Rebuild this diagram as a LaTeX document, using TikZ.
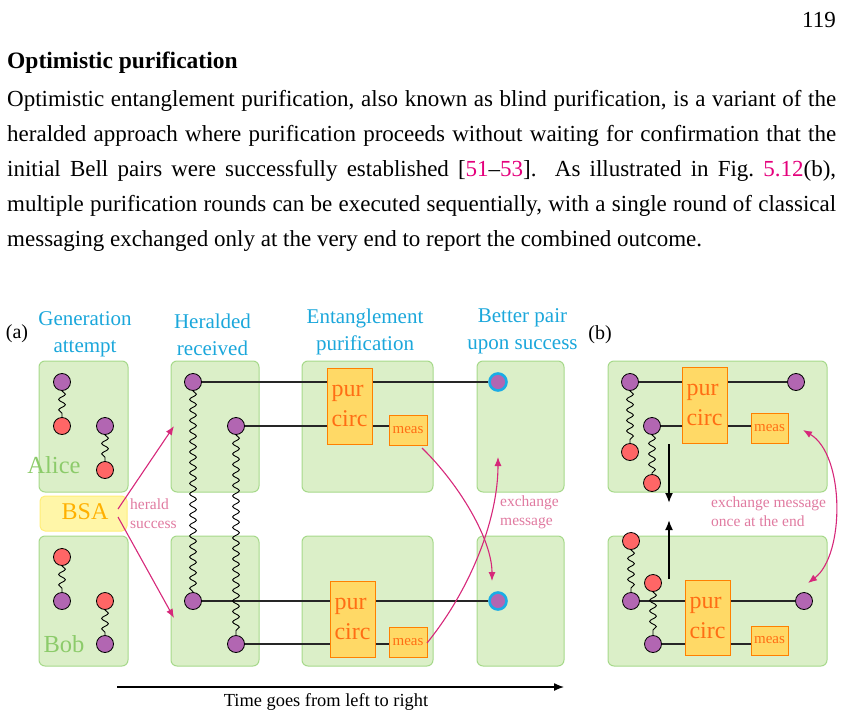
\documentclass[tikz,border=0pt]{standalone}
\usepackage{fontspec}
\setmainfont{Liberation Serif}
\usetikzlibrary{arrows.meta,decorations.pathmorphing,calc}
\definecolor{hdr}{RGB}{27,167,219}
\definecolor{panelfill}{RGB}{219,239,200}
\definecolor{panelline}{RGB}{166,217,138}
\definecolor{alicegreen}{RGB}{140,203,106}
\definecolor{bsafill}{RGB}{255,246,168}
\definecolor{bsaline}{RGB}{255,238,120}
\definecolor{bsatext}{RGB}{255,176,0}
\definecolor{qpurple}{RGB}{178,102,178}
\definecolor{qred}{RGB}{255,102,102}
\definecolor{qcyan}{RGB}{26,172,230}
\definecolor{purfill}{RGB}{255,217,102}
\definecolor{purline}{RGB}{255,128,0}
\definecolor{purtext}{RGB}{255,110,20}
\definecolor{msgcol}{RGB}{214,40,122}
\definecolor{msgtext}{RGB}{224,122,160}
\definecolor{citecol}{RGB}{228,0,124}
\pgfdeclarelayer{bg}\pgfdeclarelayer{mid}\pgfsetlayers{bg,mid,main}
\begin{document}
\begin{tikzpicture}[x=1pt,y=-1pt,
  panel/.style={rectangle,draw=panelline,fill=panelfill,rounded corners=6pt,line width=1pt,inner sep=0pt},
  qp/.style={circle,draw=black,fill=qpurple,minimum size=17pt,inner sep=0pt,line width=0.8pt},
  qr/.style={qp,fill=qred},
  qb/.style={circle,draw=qcyan,fill=qpurple,minimum size=17pt,inner sep=0pt,line width=2.6pt},
  purbox/.style={rectangle,draw=purline,fill=purfill,inner sep=0pt,text=purtext,line width=1pt,
    font=\fontsize{24}{30}\selectfont,align=left},
  measbox/.style={rectangle,draw=purline,fill=purfill,inner sep=0pt,text=purtext,line width=1pt,
    font=\fontsize{15}{18}\selectfont},
  wavy/.style={decorate,decoration={snake,segment length=10.5pt,amplitude=3.4pt},line width=0.9pt},
  wire/.style={line width=1.1pt,draw=black!85},
  msg/.style={draw=msgcol,line width=1.1pt,-{Latex[length=9pt,width=7pt]}},
  hdrtext/.style={text=hdr,font=\fontsize{21}{27}\selectfont,align=center},
  pinklbl/.style={text=msgtext,font=\fontsize{15.5}{19}\selectfont,align=left,inner sep=0pt},
  bodytext/.style={anchor=base west,inner sep=0pt,font=\fontsize{23}{28}\selectfont},
  timearrow/.style={line width=1.3pt,-{Latex[length=10pt,width=8pt]}},
  bigarrow/.style={line width=1.8pt,-{Latex[length=10pt,width=8pt]}}
]
\useasboundingbox (0,0) rectangle (843,717);

% ---------- page text ----------
\node[anchor=base east,inner sep=0pt,font=\fontsize{23}{28}\selectfont] (pnum) at (836,28) {119};
\node[bodytext,font=\fontsize{23.5}{28}\selectfont\bfseries] (head) at (7,68) {Optimistic purification};
\node[bodytext] (l1) at (7,106) {\makebox[829pt][s]{Optimistic entanglement purification, also known as blind purification, is a variant of the}};
\node[bodytext] (l2) at (7,141) {\makebox[829pt][s]{heralded approach where purification proceeds without waiting for confirmation that the}};
\node[bodytext] (l3) at (7,176) {\makebox[829pt][s]{initial Bell pairs were successfully established [\textcolor{citecol}{51}--\textcolor{citecol}{53}].\ \ As illustrated in Fig.\ \textcolor{citecol}{5.12}(b),}};
\node[bodytext] (l4) at (7,211) {\makebox[829pt][s]{multiple purification rounds can be executed sequentially, with a single round of classical}};
\node[bodytext] (l5) at (7,246) {messaging exchanged only at the very end to report the combined outcome.};

% ---------- labels ----------
\node[font=\fontsize{20}{24}\selectfont,inner sep=0pt] (la) at (17,334) {(a)};
\node[font=\fontsize{20}{24}\selectfont,inner sep=0pt] (lb) at (600,335) {(b)};
\node[hdrtext] (h1) at (85,334.5) {Generation\\attempt};
\node[hdrtext] (h2) at (212.5,334.5) {Heralded\\received};
\node[hdrtext] (h3) at (365,331.5) {Entanglement\\purification};
\node[hdrtext] (h4) at (522.5,331.5) {Better pair\\upon success};

% ---------- panels ----------
\begin{pgfonlayer}{bg}
\node[panel,minimum width=89pt,minimum height=131pt] (genA) at (83.5,426.5) {};
\node[panel,minimum width=88pt,minimum height=131pt] (herA) at (215,426.5) {};
\node[panel,minimum width=131pt,minimum height=131pt] (purA) at (367.5,426.5) {};
\node[panel,minimum width=87pt,minimum height=131pt] (betA) at (520.5,426.5) {};
\node[panel,minimum width=89pt,minimum height=130pt] (genB) at (83.5,601) {};
\node[panel,minimum width=88pt,minimum height=130pt] (herB) at (215,601) {};
\node[panel,minimum width=131pt,minimum height=130pt] (purB) at (367.5,601) {};
\node[panel,minimum width=87pt,minimum height=130pt] (betB) at (520.5,601) {};
\node[panel,minimum width=219pt,minimum height=131pt] (bTop) at (717.5,426.5) {};
\node[panel,minimum width=219pt,minimum height=130pt] (bBot) at (717.5,601) {};
\node[rectangle,draw=bsaline,fill=bsafill,rounded corners=5pt,line width=1pt,minimum width=87pt,minimum height=35pt] (bsa) at (83.5,513.5) {};
\end{pgfonlayer}
\node[text=bsatext,font=\fontsize{24}{28}\selectfont,inner sep=0pt] (bsat) at (85,512) {BSA};
\node[text=alicegreen,font=\fontsize{24.5}{28}\selectfont,inner sep=0pt] (alice) at (54,465) {Alice};
\node[text=alicegreen,font=\fontsize{24.5}{28}\selectfont,inner sep=0pt] (bob) at (64,644) {Bob};

% ---------- panel (a): generation ----------
\node[qp] (a1p) at (62,382) {};
\node[qr] (a1r) at (62,426) {};
\node[qp] (a2p) at (105,426) {};
\node[qr] (a2r) at (105,470) {};
\node[qr] (b1r) at (62,557) {};
\node[qp] (b1p) at (62,601) {};
\node[qr] (b2r) at (105,601) {};
\node[qp] (b2p) at (105,644) {};
\draw[wavy] (a1p) -- (a1r);
\draw[wavy] (a2p) -- (a2r);
\draw[wavy] (b1r) -- (b1p);
\draw[wavy] (b2r) -- (b2p);

% ---------- heralded ----------
\node[qp] (hr1) at (193,382) {};
\node[qp] (hr2) at (236,426) {};
\node[qp] (hr3) at (193,601) {};
\node[qp] (hr4) at (236,644) {};
\draw[wavy] (hr1) -- (hr3);
\draw[wavy] (hr2) -- (hr4);

% ---------- purification ----------
\node[purbox,minimum width=45pt,minimum height=76pt] (P1) at (349.5,406) {pur\\circ};
\node[measbox,minimum width=38pt,minimum height=30pt] (M1) at (408,430) {meas};
\node[purbox,minimum width=45pt,minimum height=76pt] (P2) at (352.5,619) {pur\\circ};
\node[measbox,minimum width=38pt,minimum height=30pt] (M2) at (408,642) {meas};
\node[qb] (g1) at (498,382) {};
\node[qb] (g2) at (498,601) {};
\begin{pgfonlayer}{mid}
\draw[wire] (hr1) -- (g1);
\draw[wire] (hr2) -- (hr2 -| M1.west);
\draw[wire] (hr3) -- (g2);
\draw[wire] (hr4) -- (hr4 -| M2.west);
\end{pgfonlayer}

% ---------- herald arrows ----------
\coordinate (s1) at (118,509);
\coordinate (s2) at (118,517);
\coordinate (t1) at (174,426);
\coordinate (t2) at (174,618);
\draw[msg] (s1) -- (t1);
\draw[msg] (s2) -- (t2);
\node[pinklbl,anchor=west] (herald) at (130,514) {herald\\success};

% ---------- exchange arrows (a) ----------
\coordinate (e1s) at (422,448);
\coordinate (e1t) at (492,581);
\coordinate (e2s) at (427,643);
\coordinate (e2t) at (498,457);
\draw[msg] (e1s) .. controls (460,485) and (492,540) .. (e1t);
\draw[msg] (e2s) .. controls (470,590) and (498,520) .. (e2t);
\node[pinklbl,anchor=west] (exch) at (500,512) {exchange\\message};

% ---------- time arrow ----------
\coordinate (ts) at (117,687);
\coordinate (te) at (564,687);
\draw[timearrow] (ts) -- (te);
\node[font=\fontsize{18.4}{22}\selectfont,inner sep=0pt] (timelbl) at (326,702) {Time goes from left to right};

% ---------- panel (b) top ----------
\node[qp] (c1p) at (630,382) {};
\node[qr] (c1r) at (630,452) {};
\node[qp] (c2p) at (652,426) {};
\node[qr] (c2r) at (652,483) {};
\node[purbox,minimum width=45pt,minimum height=76pt] (TP) at (704.5,405) {pur\\circ};
\node[measbox,minimum width=37pt,minimum height=30pt] (TM) at (769.5,428) {meas};
\node[qp] (c3) at (796,382) {};
\draw[wavy] (c1p) -- (c1r);
\draw[wavy] (c2p) -- (c2r);
\begin{pgfonlayer}{mid}
\draw[wire] (c1p) -- (c3);
\draw[wire] (c2p) -- (c2p -| TM.west);
\end{pgfonlayer}

% ---------- panel (b) bottom ----------
\node[qr] (d1r) at (631,541) {};
\node[qp] (d1p) at (631,601) {};
\node[qr] (d2r) at (653,583) {};
\node[qp] (d2p) at (653,644) {};
\node[purbox,minimum width=45pt,minimum height=75pt] (UP) at (707.5,617.5) {pur\\circ};
\node[measbox,minimum width=37pt,minimum height=29pt] (UM) at (769.5,640.5) {meas};
\node[qp] (d3) at (804,601) {};
\begin{pgfonlayer}{mid}
\draw[wire] (d1p) -- (d3);
\draw[wire] (d2p) -- (d2p -| UM.west);
\end{pgfonlayer}
\draw[wavy] (d1r) -- (d1p);
\draw[wavy] (d2r) -- (d2p);

% ---------- (b) arrows ----------
\coordinate (k1s) at (669,444);
\coordinate (k1t) at (669,503);
\coordinate (k2s) at (669,579);
\coordinate (k2t) at (669,520);
\draw[bigarrow] (k1s) -- (k1t);
\draw[bigarrow] (k2s) -- (k2t);
\coordinate (x1) at (803,430);
\coordinate (x2) at (808,583);
\draw[msg,{Latex[length=9pt,width=7pt]}-{Latex[length=9pt,width=7pt]}] (x1) .. controls (845,455) and (845,555) .. (x2);
\node[pinklbl,anchor=west] (exch2) at (711,512) {exchange message\\once at the end};
\end{tikzpicture}
\end{document}
